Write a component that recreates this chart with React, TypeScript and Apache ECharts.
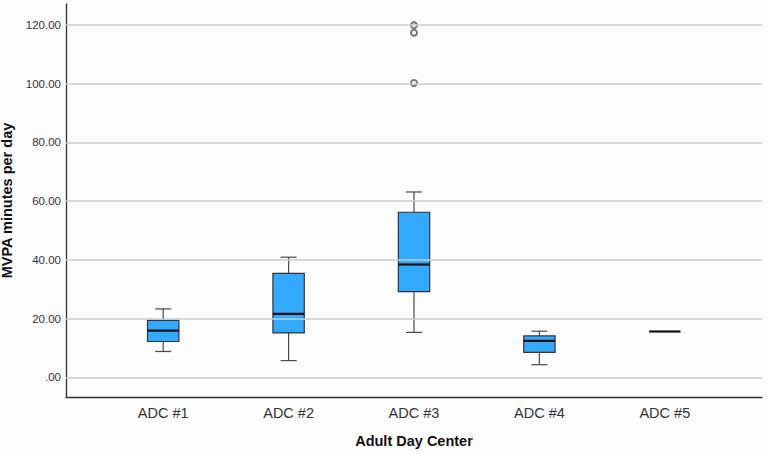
import React, { useEffect, useRef } from "react";
import * as echarts from "echarts";

// Adult Day Center groups
const categories = ["ADC #1", "ADC #2", "ADC #3", "ADC #4", "ADC #5"];
// Five-number summaries per center: [lower whisker, Q1, median, Q3, upper whisker]
const lowerWhisker = [8.8, 5.7, 15.3, 4.3, 15.6];
const quartile1 = [12.2, 15.1, 29.2, 8.5, 15.6];
const median = [15.9, 21.6, 38.4, 12.4, 15.6];
const quartile3 = [19.4, 35.4, 56.2, 14.1, 15.6];
const upperWhisker = [23.3, 40.9, 63.1, 15.7, 15.6];
// Outliers: [center index, minutes]
const outliers = [
  [2, 119.9],
  [2, 117.3],
  [2, 100.2],
];
// Y tick labels / grid values
const yTicks = [0, 20, 40, 60, 80, 100, 120];

const FONT = "'Liberation Sans', Arial, sans-serif";

export default function App() {
  const ref = useRef<HTMLDivElement>(null);

  useEffect(() => {
    if (!ref.current) return;
    const chart = echarts.init(ref.current, undefined, { renderer: "svg" });

    const boxData = categories.map((_, i) => [
      i,
      lowerWhisker[i],
      quartile1[i],
      median[i],
      quartile3[i],
      upperWhisker[i],
    ]);

    const renderBox = (params: any, api: any) => {
      const x = api.value(0);
      const band = api.size([1, 0])[0];
      const halfBox = band * 0.125;
      const halfCap = band * 0.064;
      const pLo = api.coord([x, api.value(1)]);
      const pQ1 = api.coord([x, api.value(2)]);
      const pMed = api.coord([x, api.value(3)]);
      const pQ3 = api.coord([x, api.value(4)]);
      const pHi = api.coord([x, api.value(5)]);
      const cx = pMed[0];
      const whiskerStyle = { stroke: "#4a4a4a", lineWidth: 1.2 };
      const children: any[] = [];
      const boxH = pQ1[1] - pQ3[1];
      if (boxH > 0.5) {
        children.push(
          { type: "line", shape: { x1: cx, y1: pHi[1], x2: cx, y2: pQ3[1] }, style: whiskerStyle },
          { type: "line", shape: { x1: cx, y1: pQ1[1], x2: cx, y2: pLo[1] }, style: whiskerStyle },
          { type: "line", shape: { x1: cx - halfCap, y1: pHi[1], x2: cx + halfCap, y2: pHi[1] }, style: whiskerStyle },
          { type: "line", shape: { x1: cx - halfCap, y1: pLo[1], x2: cx + halfCap, y2: pLo[1] }, style: whiskerStyle },
          {
            type: "rect",
            shape: { x: cx - halfBox, y: pQ3[1], width: halfBox * 2, height: boxH },
            style: { fill: "#33aaff", stroke: "#333333", lineWidth: 1.2 },
          }
        );
      }
      children.push({
        type: "line",
        shape: { x1: cx - halfBox, y1: pMed[1], x2: cx + halfBox, y2: pMed[1] },
        style: { stroke: "#111111", lineWidth: 2.2 },
      });
      return { type: "group", children };
    };

    chart.setOption({
      animation: false,
      backgroundColor: "#fdfcfd",
      grid: { left: 66, right: 5, top: 4, bottom: 57, outerBoundsMode: "none", containLabel: false },
      xAxis: {
        type: "value",
        min: -0.775,
        max: 4.775,
        splitLine: { show: false },
        axisTick: { show: false },
        axisLine: { show: true, onZero: false, lineStyle: { color: "#333333", width: 1.3 } },
        axisLabel: {
          customValues: [0, 1, 2, 3, 4],
          formatter: (v: number) => categories[Math.round(v)] ?? "",
          color: "#333333",
          fontSize: 14.5,
          fontFamily: FONT,
          margin: 8,
        },
        name: "Adult Day Center",
        nameLocation: "middle",
        nameGap: 36,
        nameTextStyle: { fontSize: 14.5, fontWeight: "bold", color: "#111111", fontFamily: FONT },
      },
      yAxis: {
        type: "value",
        min: -6.7,
        max: 127.1,
        splitLine: { show: false },
        axisTick: { show: false, customValues: yTicks },
        axisLine: { show: true, onZero: false, lineStyle: { color: "#333333", width: 1.3 } },
        axisLabel: {
          customValues: yTicks,
          formatter: (v: number) => (v === 0 ? ".00" : v.toFixed(2)),
          color: "#333333",
          fontSize: 11.5,
          fontFamily: FONT,
          margin: 5,
        },
        name: "MVPA minutes per day",
        nameLocation: "middle",
        nameGap: 49,
        nameTextStyle: { fontSize: 14.5, fontWeight: "bold", color: "#111111", fontFamily: FONT },
      },
      series: [
        {
          type: "line",
          data: [],
          z: 1,
          silent: true,
          markLine: {
            silent: true,
            symbol: "none",
            label: { show: false },
            lineStyle: { color: "#cccccc", width: 1.5, type: "solid" },
            data: yTicks.map((v) => ({ yAxis: v })),
          },
        },
        {
          type: "custom",
          z: 3,
          renderItem: renderBox,
          encode: { x: 0, y: [1, 2, 3, 4, 5] },
          data: boxData,
        },
        {
          type: "scatter",
          z: 4,
          symbol: "emptyCircle",
          symbolSize: 6,
          itemStyle: { color: "#555555", borderColor: "#555555", borderWidth: 1.2 },
          data: outliers,
        },
      ],
    });

    return () => chart.dispose();
  }, []);

  return (
    <div
      ref={ref}
      style={{ position: "fixed", left: 0, top: 0, width: 767, height: 454 }}
    />
  );
}
